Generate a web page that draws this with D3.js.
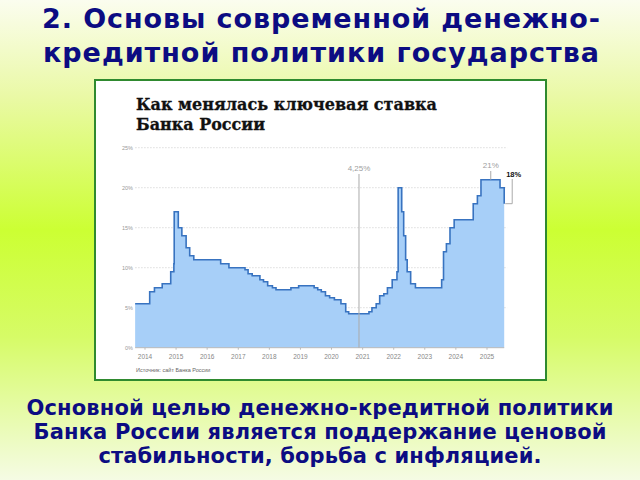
<!DOCTYPE html>
<html><head><meta charset="utf-8">
<script src="https://cdn.jsdelivr.net/npm/d3@7"></script>
<style>html,body{margin:0;padding:0;overflow:hidden}svg{display:block}</style>
</head><body>
<script>
// ---- data ----
const rateDates = ["2013-09-13","2014-03-03","2014-04-28","2014-07-28","2014-11-05","2014-12-12","2014-12-16",
"2015-02-02","2015-03-16","2015-05-05","2015-06-16","2015-08-03","2016-06-14","2016-09-19",
"2017-03-27","2017-05-02","2017-06-19","2017-09-18","2017-10-30","2017-12-18",
"2018-02-12","2018-03-26","2018-09-17","2018-12-17",
"2019-06-17","2019-07-29","2019-09-09","2019-10-28","2019-12-16",
"2020-02-10","2020-04-27","2020-06-22","2020-07-27",
"2021-03-22","2021-04-26","2021-06-15","2021-07-26","2021-09-13","2021-10-25","2021-12-20",
"2022-02-14","2022-02-28","2022-04-11","2022-05-04","2022-05-27","2022-06-14","2022-07-25","2022-09-19",
"2023-07-24","2023-08-15","2023-09-18","2023-10-30","2023-12-18",
"2024-07-29","2024-09-16","2024-10-28","2025-06-09","2025-07-28"];
const rateValues = [5.5,7,7.5,8,9.5,10.5,17,
15,14,12.5,11.5,11,10.5,10,
9.75,9.25,9,8.5,8.25,7.75,
7.5,7.25,7.5,7.75,
7.5,7.25,7,6.5,6.25,
6,5.5,4.5,4.25,
4.5,5,5.5,6.5,6.75,7.5,8.5,
9.5,20,17,14,11,9.5,8,7.5,
8.5,12,13,15,16,
18,19,21,20,18];
const yearTicks = ["2014","2015","2016","2017","2018","2019","2020","2021","2022","2023","2024","2025"];
const yTicks = [0,5,10,15,20,25];
const calloutLabels = ["4,25%","21%"];
const calloutDates = ["2020-11-25","2025-02-20"];
const calloutValues = [4.25,21];
const lastLabel = "18%";
const chartTitle = ["Как менялась ключевая ставка","Банка России"];
const slideTitle = ["2. Основы современной денежно-","кредитной политики государства"];
const bottomText = ["Основной целью денежно-кредитной политики","Банка России является поддержание ценовой","стабильности, борьба с инфляцией."];
const sourceText = "Источник: сайт Банка России";

// ---- drawing ----
const W=640,H=480;
const svg=d3.select("body").append("svg").attr("width",W).attr("height",H);
const defs=svg.append("defs");
const g=defs.append("linearGradient").attr("id","bg").attr("x1",0).attr("y1",0).attr("x2",0).attr("y2",1);
[[0,"#fbfdef"],[0.2,"#eaf9a6"],[0.48,"#ccff33"],[0.7,"#d6fb66"],[1,"#f5fbe4"]].forEach(s=>g.append("stop").attr("offset",s[0]).attr("stop-color",s[1]));
svg.append("rect").attr("width",W).attr("height",H).attr("fill","url(#bg)");

const navy="#0c0c82";
const sans="'DejaVu Sans', Verdana, sans-serif";
const titleLens=[558,556];
slideTitle.forEach((t,i)=>svg.append("text").attr("x",321).attr("y",27.5+i*34)
  .attr("text-anchor","middle").attr("font-family",sans).attr("font-weight","bold")
  .attr("font-size",27).attr("fill",navy).attr("textLength",titleLens[i]).attr("lengthAdjust","spacing").text(t));
const botLens=[587,573,443];
bottomText.forEach((t,i)=>svg.append("text").attr("x",320).attr("y",414.5+i*24)
  .attr("text-anchor","middle").attr("font-family",sans).attr("font-weight","bold")
  .attr("font-size",21).attr("fill",navy).attr("textLength",botLens[i]).attr("lengthAdjust","spacing").text(t));

// box
svg.append("rect").attr("x",95).attr("y",80).attr("width",451).attr("height",300)
  .attr("fill","#fff").attr("stroke","#2f8a2f").attr("stroke-width",2);

const ctLens=[301,129];
chartTitle.forEach((t,i)=>svg.append("text").attr("x",136).attr("y",109.5+i*20.5)
  .attr("font-family","'DejaVu Serif', serif").attr("font-weight","bold").attr("font-size",17)
  .attr("fill","#111").attr("stroke","#111").attr("stroke-width",0.3)
  .attr("textLength",ctLens[i]).attr("lengthAdjust","spacingAndGlyphs").text(t));

const parse=d3.timeParse("%Y-%m-%d");
const data=rateDates.map((d,i)=>({date:parse(d),v:rateValues[i]}));
const x=d3.scaleTime().domain([parse("2014-01-01"),parse("2025-01-01")]).range([144.5,486.5]);
const y=d3.scaleLinear().domain([0,25]).range([347.7,147.7]);
const x0=x(data[0].date), x1=x(data[data.length-1].date);

// grid
svg.append("g").selectAll("line").data(yTicks.filter(d=>d>0)).join("line")
  .attr("x1",x0).attr("x2",x1+3).attr("y1",d=>y(d)).attr("y2",d=>y(d))
  .attr("stroke","#d4d4d4").attr("stroke-width",0.8).attr("stroke-dasharray","1.5,1.5");
svg.append("g").selectAll("text").data(yTicks).join("text")
  .attr("x",133).attr("y",d=>y(d)+2).attr("text-anchor","end")
  .attr("font-family","'Liberation Sans', Arial, sans-serif").attr("font-size",5.5).attr("fill","#999")
  .text(d=>d+"%");

// area + line
const area=d3.area().curve(d3.curveStepAfter).x(d=>x(d.date)).y0(y(0)).y1(d=>y(d.v));
svg.append("path").datum(data).attr("d",area).attr("fill","#a7cff8");
const line=d3.line().curve(d3.curveStepAfter).x(d=>x(d.date)).y(d=>y(d.v));
svg.append("path").datum(data).attr("d",line).attr("fill","none").attr("stroke","#3873c0").attr("stroke-width",1.6);
const last=data[data.length-1];

// x axis
const ax=d3.axisBottom(x).tickValues(yearTicks.map(t=>parse(t+"-01-01"))).tickFormat(d3.timeFormat("%Y")).tickSize(2).tickSizeOuter(0);
const axg=svg.append("g").attr("transform",`translate(0,${y(0)})`).call(ax);
axg.select(".domain").attr("stroke","#bbb").attr("d",`M${x0},0H${x1}`);
axg.selectAll(".tick line").attr("stroke","#bbb");
axg.selectAll(".tick text").attr("font-family","'Liberation Sans', Arial, sans-serif").attr("font-size",6.5).attr("fill","#888").attr("dy","0.9em");

svg.append("text").attr("x",136).attr("y",372).attr("font-family","'Liberation Sans', Arial, sans-serif")
  .attr("font-size",5.5).attr("fill","#666").text(sourceText);

// callouts
calloutLabels.forEach((lab,i)=>{
  const cx=x(parse(calloutDates[i]));
  const top = i===0 ? 174 : 171;
  const bot = i===0 ? y(0) : y(calloutValues[i]);
  svg.append("line").attr("x1",cx).attr("x2",cx).attr("y1",top).attr("y2",bot).attr("stroke","#aaa").attr("stroke-width",1);
  svg.append("text").attr("x",cx).attr("y",top-3).attr("text-anchor","middle")
    .attr("font-family","'Liberation Sans', Arial, sans-serif").attr("font-size",8).attr("fill","#a0a0a0").text(lab);
});
// last value bracket
const ly=y(last.v);
svg.append("path").attr("d",`M${x1+1},${ly}H${x1+8}V${179}`).attr("fill","none").attr("stroke","#aaa").attr("stroke-width",1);
svg.append("text").attr("x",x1+2).attr("y",177).attr("font-family","'Liberation Sans', Arial, sans-serif")
  .attr("font-weight","bold").attr("font-size",7.5).attr("fill","#111").text(lastLabel);
</script>
</body></html>
